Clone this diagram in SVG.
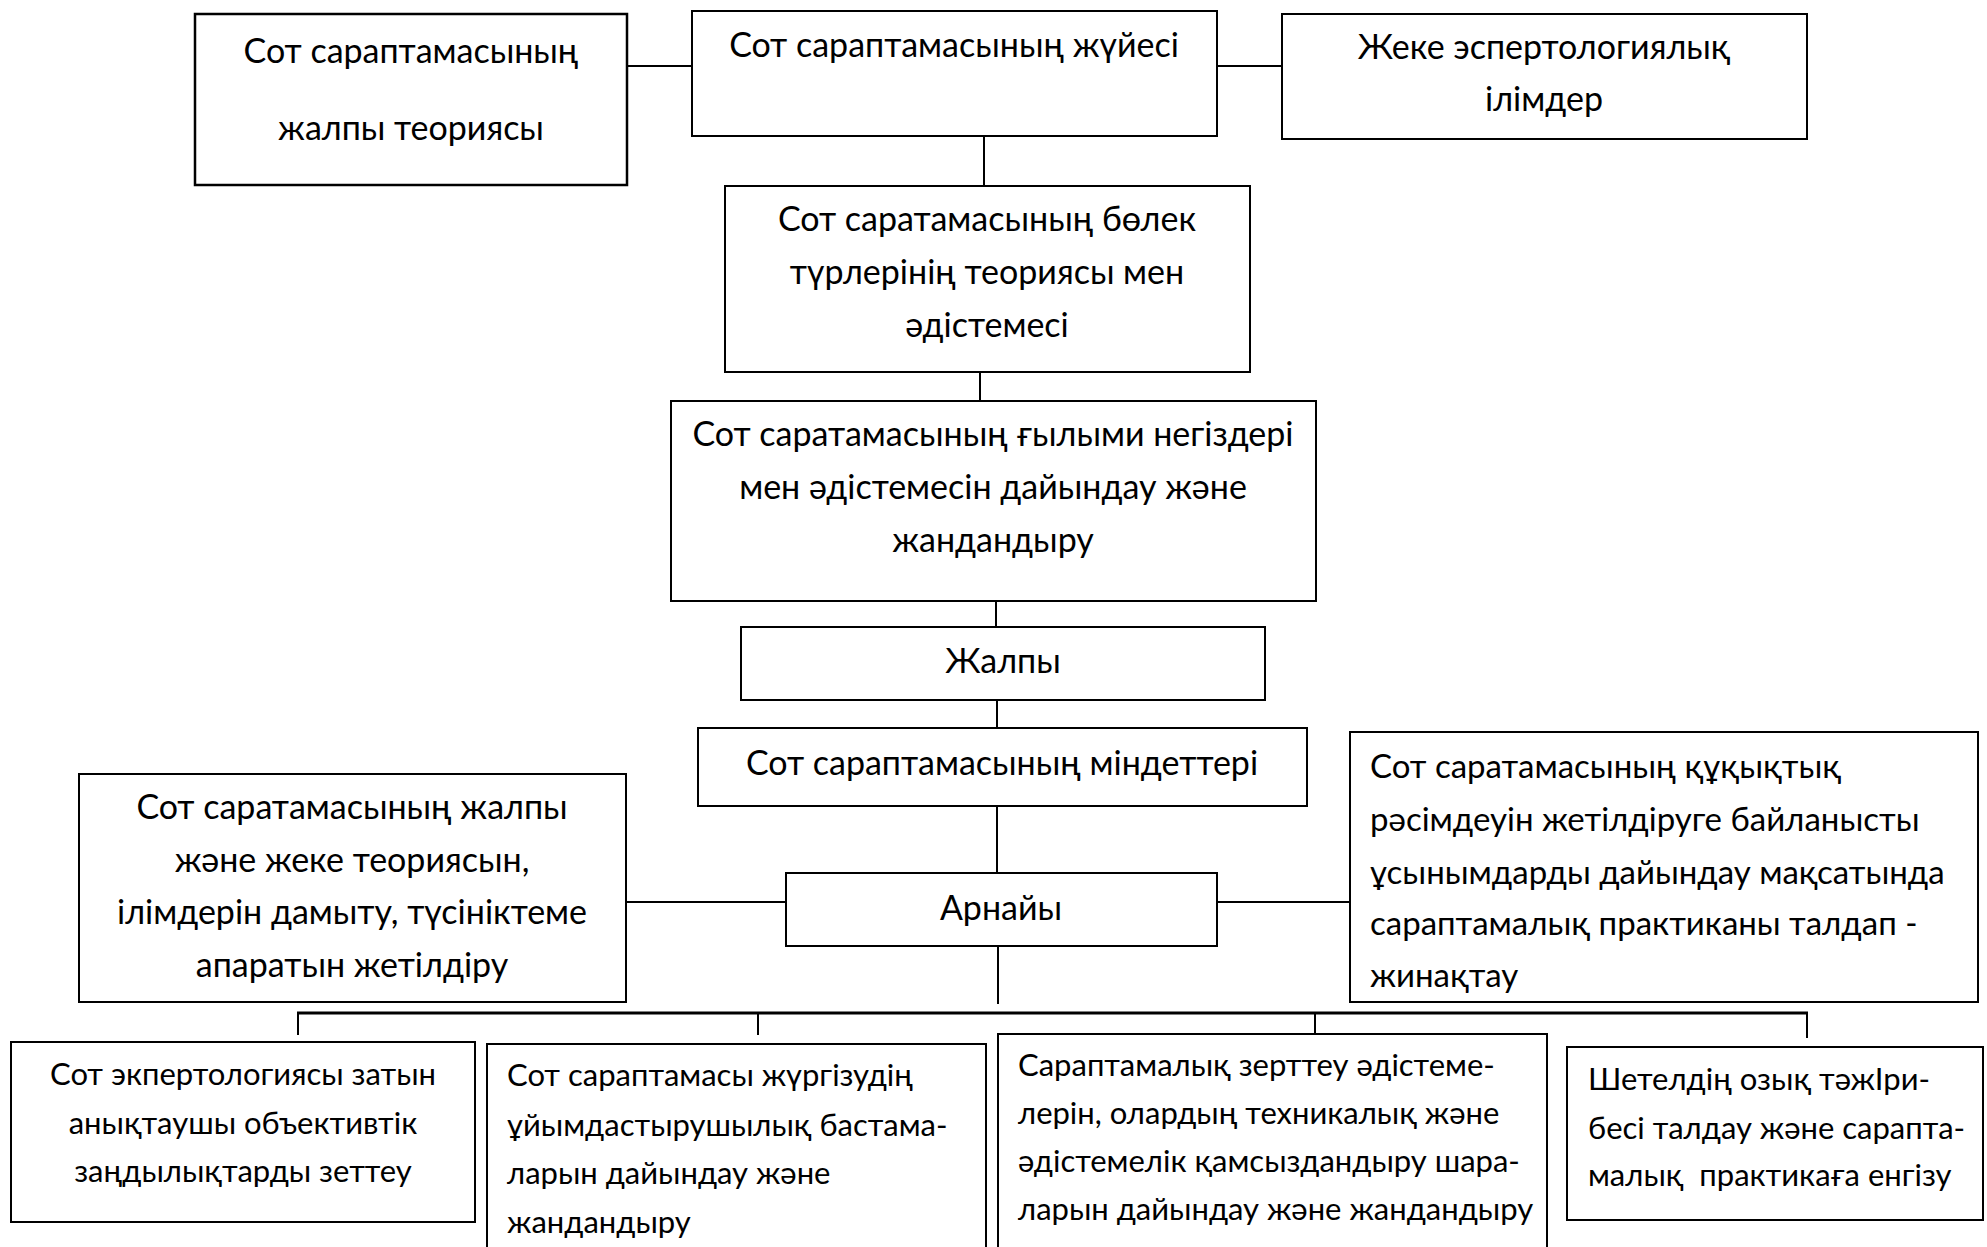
<svg xmlns="http://www.w3.org/2000/svg" width="1987" height="1247" viewBox="0 0 1987 1247">
<style>
rect{fill:#fff;stroke:#000;stroke-width:2}
.c line{stroke:#000;stroke-width:2}
text{font-family:Lato,"Noto Sans",sans-serif;fill:#000;font-size:34px}
.m{text-anchor:middle}
.s{font-size:31px}
.r{font-size:33px}
</style>
<rect x="0" y="0" width="1987" height="1247" style="stroke:none"/>
<g class="c" id="connectors">
<line x1="627" y1="66" x2="692" y2="66"/>
<line x1="1217" y1="66" x2="1282" y2="66"/>
<line x1="984" y1="136" x2="984" y2="186"/>
<line x1="980" y1="372" x2="980" y2="401"/>
<line x1="996" y1="601" x2="996" y2="627"/>
<line x1="997" y1="700" x2="997" y2="728"/>
<line x1="997" y1="806" x2="997" y2="873"/>
<line x1="626" y1="902" x2="786" y2="902"/>
<line x1="1217" y1="902" x2="1350" y2="902"/>
<line x1="998" y1="946" x2="998" y2="1004"/>
<line x1="297" y1="1013" x2="1808" y2="1013" style="stroke-width:3"/>
<line x1="298" y1="1013" x2="298" y2="1035"/>
<line x1="758" y1="1013" x2="758" y2="1035"/>
<line x1="1315" y1="1013" x2="1315" y2="1036"/>
<line x1="1807" y1="1013" x2="1807" y2="1038"/>
</g>
<g id="n1"><rect x="195" y="14" width="432" height="171" style="stroke-width:2.5"/>
<text class="m" x="411" y="63">Сот сараптамасының</text>
<text class="m" x="411" y="140">жалпы теориясы</text></g>
<g id="n2"><rect x="692" y="11" width="525" height="125"/>
<text class="m" x="954" y="57">Сот сараптамасының жүйесі</text></g>
<g id="n3"><rect x="1282" y="14" width="525" height="125"/>
<text class="m" x="1544" y="59">Жеке эспертологиялық</text>
<text class="m" x="1544" y="111">ілімдер</text></g>
<g id="n4"><rect x="725" y="186" width="525" height="186"/>
<text class="m" x="987" y="231">Сот саратамасының бөлек</text>
<text class="m" x="987" y="284">түрлерінің теориясы мен</text>
<text class="m" x="987" y="337">әдістемесі</text></g>
<g id="n5"><rect x="671" y="401" width="645" height="200"/>
<text class="m" x="993" y="446">Сот саратамасының ғылыми негіздері</text>
<text class="m" x="993" y="499">мен әдістемесін дайындау және</text>
<text class="m" x="993" y="552">жандандыру</text></g>
<g id="n6"><rect x="741" y="627" width="524" height="73"/>
<text class="m" x="1003" y="673">Жалпы</text></g>
<g id="n7"><rect x="698" y="728" width="609" height="78"/>
<text class="m" x="1002" y="775">Сот сараптамасының міндеттері</text></g>
<g id="n8"><rect x="786" y="873" width="431" height="73"/>
<text class="m" x="1001" y="920">Арнайы</text></g>
<g id="n9"><rect x="79" y="774" width="547" height="228"/>
<text class="m" x="352" y="819">Сот саратамасының жалпы</text>
<text class="m" x="352" y="872">және жеке теориясын,</text>
<text class="m" x="352" y="924">ілімдерін дамыту, түсініктеме</text>
<text class="m" x="352" y="977">апаратын жетілдіру</text></g>
<g id="n10"><rect x="1350" y="732" width="628" height="270"/>
<text class="r" x="1370" y="778">Сот саратамасының құқықтық</text>
<text class="r" x="1370" y="831">рәсімдеуін жетілдіруге байланысты</text>
<text class="r" x="1370" y="884">ұсынымдарды дайындау мақсатында</text>
<text class="r" x="1370" y="935">сараптамалық практиканы талдап -</text>
<text class="r" x="1370" y="987">жинақтау</text></g>
<g id="n11"><rect x="11" y="1042" width="464" height="180"/>
<text class="m s" x="243" y="1085">Сот экпертологиясы затын</text>
<text class="m s" x="243" y="1134">анықтаушы объективтік</text>
<text class="m s" x="243" y="1182">заңдылықтарды зеттеу</text></g>
<g id="n12"><rect x="487" y="1044" width="499" height="230"/>
<text class="s" x="507" y="1086">Сот сараптамасы жүргізудің</text>
<text class="s" x="507" y="1136">ұйымдастырушылық бастама-</text>
<text class="s" x="507" y="1184">ларын дайындау және</text>
<text class="s" x="507" y="1233">жандандыру</text></g>
<g id="n13"><rect x="998" y="1034" width="549" height="240"/>
<text class="s" x="1018" y="1076">Сараптамалық зерттеу әдістеме-</text>
<text class="s" x="1018" y="1124">лерін, олардың техникалық және</text>
<text class="s" x="1018" y="1172">әдістемелік қамсыздандыру шара-</text>
<text class="s" x="1018" y="1220">ларын дайындау және жандандыру</text></g>
<g id="n14"><rect x="1567" y="1047" width="416" height="173"/>
<text class="s" x="1588" y="1090">Шетелдің озық тәжІри-</text>
<text class="s" x="1588" y="1139">бесі талдау және сарапта-</text>
<text class="s" x="1588" y="1186">малық&#160; практикаға енгізу</text></g>
</svg>
